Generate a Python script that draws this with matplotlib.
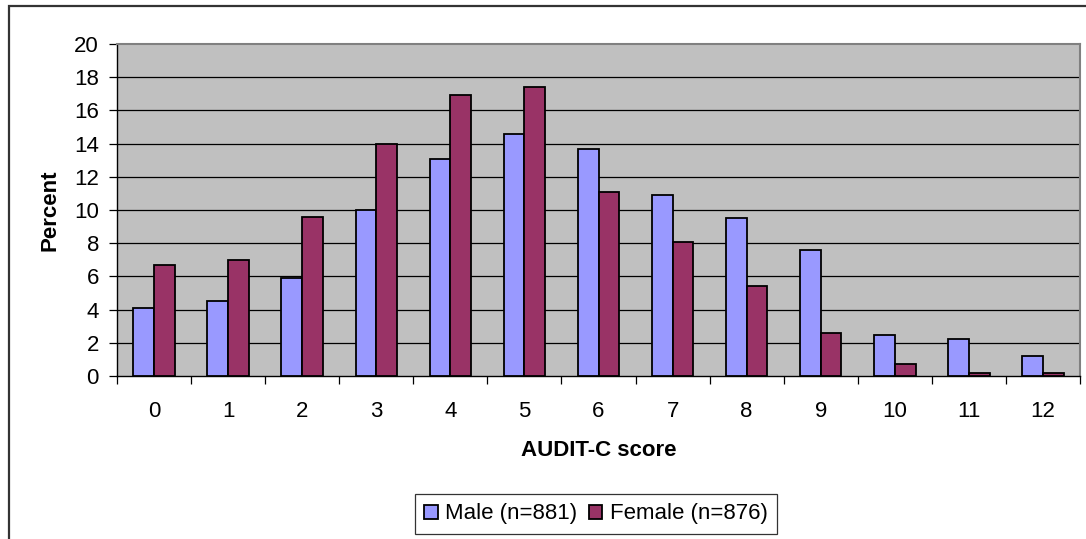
import numpy as np
import matplotlib.pyplot as plt
from matplotlib.patches import Rectangle

plt.rcParams['font.family'] = ['Liberation Sans', 'DejaVu Sans']

# AUDIT-C score distribution (percent)
scores = ['0', '1', '2', '3', '4', '5', '6', '7', '8', '9', '10', '11', '12']
male = [4.1, 4.5, 5.9, 10.0, 13.1, 14.6, 13.7, 10.9, 9.5, 7.6, 2.5, 2.2, 1.2]
female = [6.7, 7.0, 9.6, 14.0, 16.9, 17.4, 11.1, 8.1, 5.4, 2.6, 0.7, 0.2, 0.2]
male_label = 'Male (n=881)'
female_label = 'Female (n=876)'

fs = 16

fig = plt.figure(figsize=(10.86, 5.39), dpi=100)
ax = fig.add_axes([117 / 1086, 1 - 376 / 539, 963 / 1086, 332 / 539])

# outer chart frame
fig.patches.append(Rectangle((8.5 / 1086, -0.05), 1.1, 1.05 - 5.5 / 539,
                             transform=fig.transFigure, fill=False,
                             edgecolor='#333333', linewidth=1.6))

x = np.arange(len(scores))
w = 0.28
ax.set_facecolor('#C0C0C0')
ax.bar(x - w / 2, male, w, color='#9999FF', edgecolor='black', linewidth=1.3,
       label=male_label, zorder=3)
ax.bar(x + w / 2, female, w, color='#993366', edgecolor='black', linewidth=1.3,
       label=female_label, zorder=3)

ax.set_xlim(-0.5, len(scores) - 0.5)
ax.set_ylim(0, 20)
ax.set_yticks(range(0, 21, 2))
for yv in range(2, 20, 2):
    ax.axhline(yv, color='black', linewidth=0.9, zorder=1)

# category ticks sit between groups, labels centred
ax.set_xticks(np.arange(-0.5, len(scores), 1))
ax.set_xticklabels([])
ax.set_xticks(x, minor=True)
ax.set_xticklabels(scores, minor=True)
ax.tick_params(axis='x', which='major', length=6, width=0.9, direction='out')
ax.tick_params(axis='x', which='minor', length=0, pad=18, labelsize=fs)
ax.tick_params(axis='y', length=6, width=0.9, pad=7, labelsize=fs)

for s in ['top', 'right']:
    ax.spines[s].set_color('#808080')
    ax.spines[s].set_linewidth(1.5)
for s in ['left', 'bottom']:
    ax.spines[s].set_color('black')
    ax.spines[s].set_linewidth(1.0)

ax.set_ylabel('Percent', fontsize=fs, fontweight='bold', labelpad=10)
ax.set_xlabel('AUDIT-C score', fontsize=fs, fontweight='bold', labelpad=13)

leg = fig.legend(loc='center', bbox_to_anchor=(596 / 1086, 1 - 514 / 539),
                 ncol=2, fontsize=fs, frameon=True, fancybox=False,
                 handlelength=0.6, handleheight=0.6, handletextpad=0.35,
                 columnspacing=0.5, borderpad=0.42, borderaxespad=0)
leg.get_frame().set_edgecolor('black')
leg.get_frame().set_linewidth(0.9)

plt.savefig('out.png', dpi=100)
